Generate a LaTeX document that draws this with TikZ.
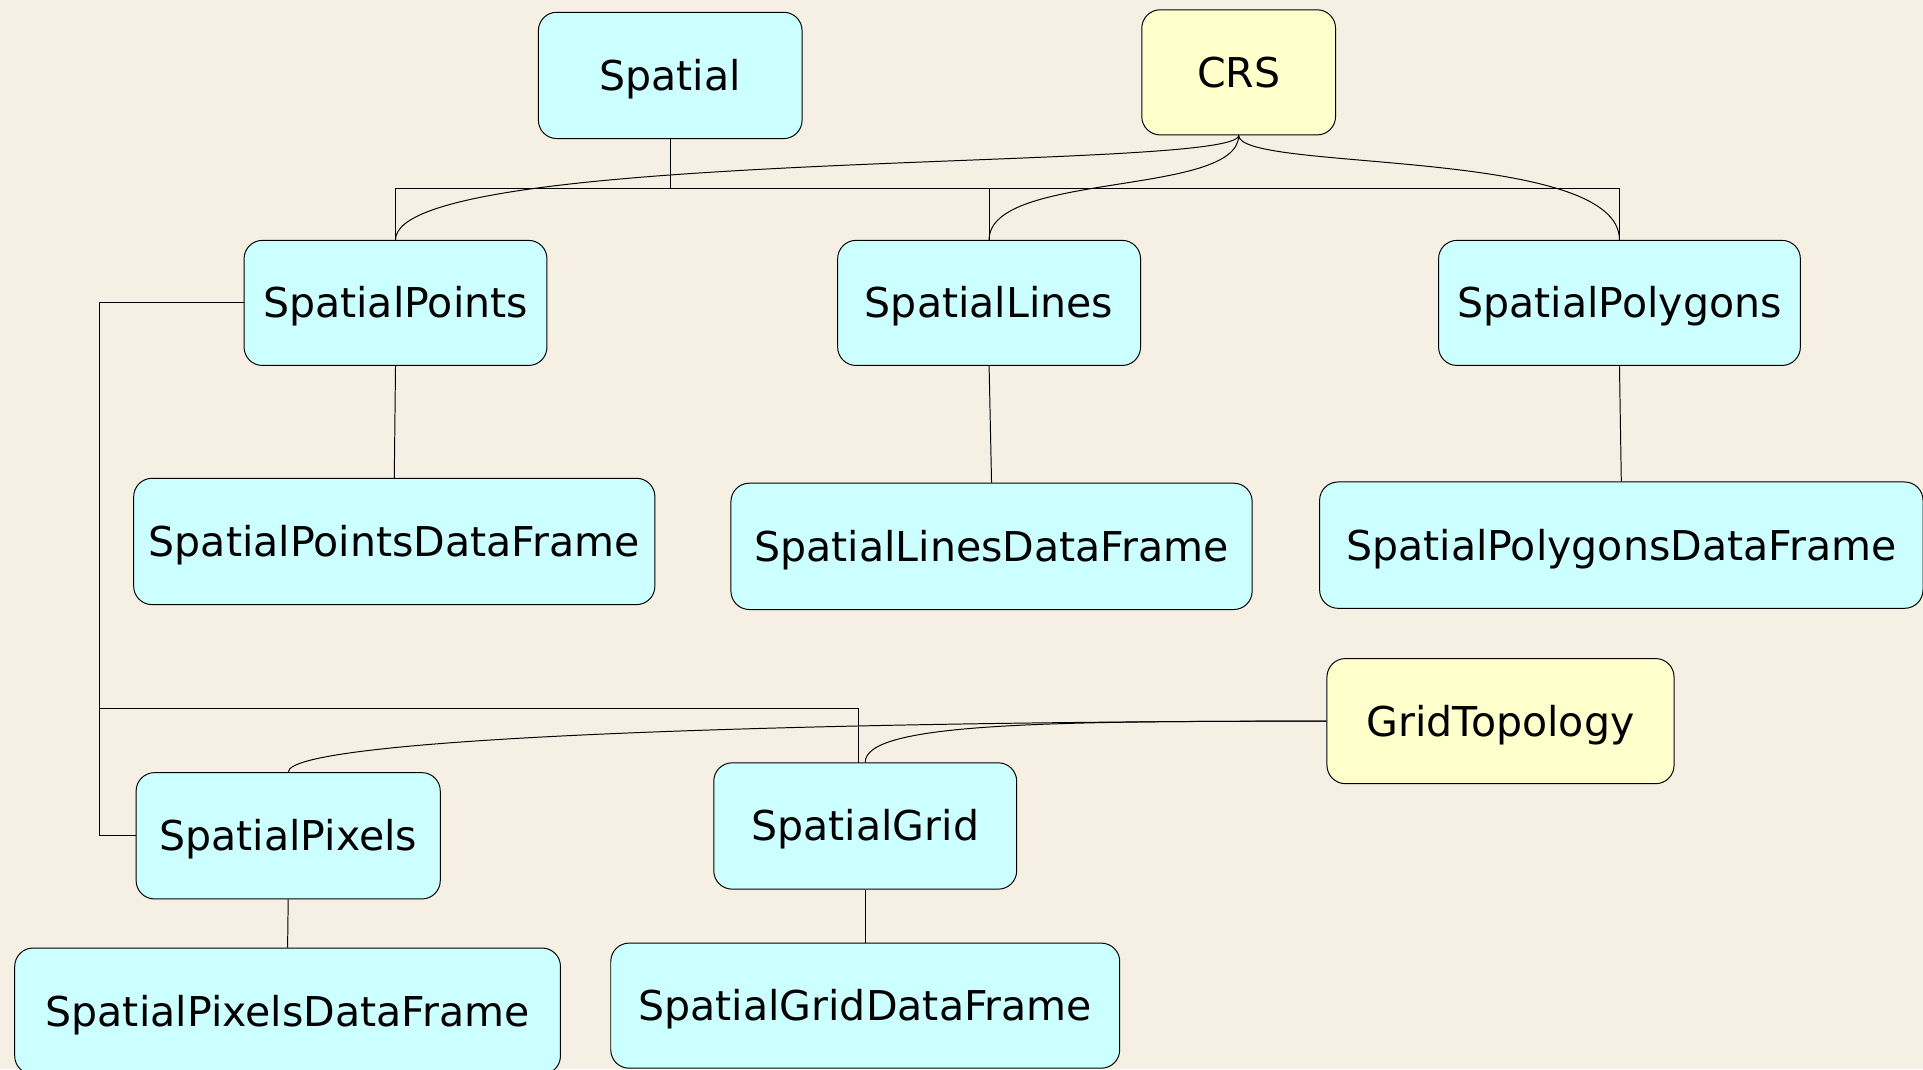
\documentclass[tikz,border=0pt]{standalone}
\usepackage{fontspec}
\setmainfont{DejaVu Sans}
\usetikzlibrary{calc}
\definecolor{bgcol}{RGB}{245,239,228}
\definecolor{classfill}{RGB}{204,255,255}
\definecolor{auxfill}{RGB}{255,255,204}
\tikzset{
  cls/.style={draw=black, line width=0.8pt, rounded corners=15pt, fill=classfill,
    inner sep=0pt, text height=24.4pt, text depth=0pt,
    font=\fontsize{33.5}{40}\selectfont},
  aux/.style={cls, fill=auxfill},
  link/.style={draw=black, line width=0.8pt},
}
\begin{document}
\begin{tikzpicture}[x=1pt, y=-1pt]
  \useasboundingbox (0,0) rectangle (1568,872);
  \fill[bgcol] (0,0) rectangle (1568,872);

  % classes
  \node[cls, minimum width=215pt, minimum height=103pt] (spatial) at (546.5,61.5) {Spatial};
  \node[aux, minimum width=158pt, minimum height=102pt] (crs) at (1010,59) {CRS};
  \node[cls, minimum width=247pt, minimum height=102pt] (pts) at (322.5,247) {SpatialPoints};
  \node[cls, minimum width=247pt, minimum height=102pt] (lns) at (806.5,247) {SpatialLines};
  \node[cls, minimum width=295pt, minimum height=102pt] (pls) at (1320.5,247) {SpatialPolygons};
  \node[cls, minimum width=425pt, minimum height=103pt] (ptsdf) at (321.5,441.5) {SpatialPointsDataFrame};
  \node[cls, minimum width=425pt, minimum height=103pt] (lnsdf) at (808.5,445.5) {SpatialLinesDataFrame};
  \node[cls, minimum width=492pt, minimum height=103pt] (plsdf) at (1322,444.5) {SpatialPolygonsDataFrame};
  \node[aux, minimum width=283pt, minimum height=102pt] (gtop) at (1223.5,588) {GridTopology};
  \node[cls, minimum width=248pt, minimum height=103pt] (pix) at (235,681.5) {SpatialPixels};
  \node[cls, minimum width=247pt, minimum height=103pt] (grd) at (705.5,673.5) {SpatialGrid};
  \node[cls, minimum width=445pt, minimum height=103pt] (pixdf) at (234.5,824.5) {SpatialPixelsDataFrame};
  \node[cls, minimum width=415pt, minimum height=102pt] (grddf) at (705.5,820) {SpatialGridDataFrame};

  % inheritance bus below Spatial
  \coordinate (bus) at (546.5,154);
  \draw[link] (spatial.south) -- (bus);
  \draw[link] (pts.north) |- (bus);
  \draw[link] (lns.north) |- (bus);
  \draw[link] (pls.north) |- (bus);

  % CRS slots
  \draw[link] (crs.south) .. controls +(0,30) and +(0,-76) .. (pts.north);
  \draw[link] (crs.south) .. controls +(0,50) and +(0,-56) .. (lns.north);
  \draw[link] (crs.south) .. controls +(0,30) and +(0,-76) .. (pls.north);

  % data frame extensions
  \draw[link] (pts.south) -- (ptsdf.north);
  \draw[link] (lns.south) -- (lnsdf.north);
  \draw[link] (pls.south) -- (plsdf.north);
  \draw[link] (pix.south) -- (pixdf.north);
  \draw[link] (grd.south) -- (grddf.north);

  % SpatialPoints -> SpatialPixels, SpatialGrid
  \coordinate (lbend) at (81,247);
  \coordinate (gbranch) at (81,578);
  \coordinate (gdrop) at (700,622);
  \draw[link] (pts.west) -- (lbend) |- (pix.west);
  \draw[link] (gbranch) -| (gdrop);

  % GridTopology slots
  \draw[link] (gtop.west) .. controls +(-382,0) and +(0,-30) .. (pix.north);
  \draw[link] (gtop.west) .. controls +(-232,0) and +(0,-32) .. (grd.north);
\end{tikzpicture}
\end{document}
